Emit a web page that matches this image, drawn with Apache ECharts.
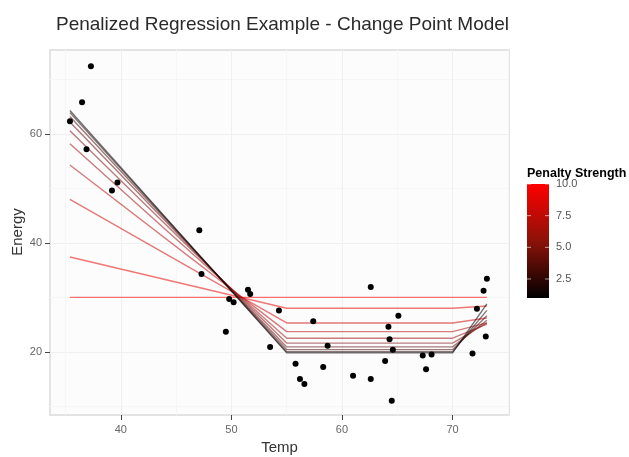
<!DOCTYPE html>
<html lang="en">
<head>
    <meta charset="UTF-8">
    <title>Penalized Regression Example - Change Point Model</title>
    <script src="https://cdn.jsdelivr.net/npm/echarts@6/dist/echarts.min.js"></script>
    <style>
        body{margin:0;background:#fff}
        #main{width:629px;height:457px}
    </style>
</head>
<body>
<div id="main"></div>
<script>
    // observed points
    var temp = [35.4, 36.5, 37.3, 36.9, 39.2, 39.7, 47.1, 47.3, 49.5, 49.8, 50.2, 51.5, 51.7,
        53.5, 54.3, 55.8, 56.2, 56.6, 57.4, 58.3, 58.7, 61.0, 62.6, 62.6, 63.9, 64.2, 64.3,
        64.6, 64.5, 65.1, 67.3, 67.6, 68.1, 71.8, 72.2, 72.8, 73.1, 73.0];
    var energy = [62.3, 65.8, 72.4, 57.2, 49.6, 51.1, 42.3, 34.3, 23.7, 29.7, 29.1, 31.4, 30.6,
        20.9, 27.6, 17.8, 15.0, 14.1, 25.6, 17.2, 21.1, 15.6, 31.9, 15.0, 18.3, 24.6, 22.3,
        20.4, 11.0, 26.6, 19.3, 16.8, 19.5, 19.7, 27.9, 31.2, 33.4, 22.8];

    // fitted change point lines, one per penalty
    var penalty = [1, 2, 3, 4, 5, 6, 7, 8, 9, 10];
    var knots = [35.4, 55, 70, 73.1];
    var fitLeft = [64.3, 63.9, 63.2, 62.2, 60.6, 58.2, 54.3, 48.0, 37.4, 30.0];
    var fitFlat = [19.8, 20.0, 20.4, 20.9, 21.6, 22.5, 23.7, 25.3, 28.0, 30.0];
    var fitRight = [28.8, 27.6, 26.6, 25.8, 25.3, 25.1, 25.3, 26.2, 28.4, 30.0];

    var legendTicks = [2.5, 5.0, 7.5, 10.0];
    var penMin = 1, penMax = 10;

    function penColor(v, a) {
        var t = (v - penMin) / (penMax - penMin);
        var r = Math.round(255 * Math.pow(t, 0.8));
        var g = Math.round(20 * Math.sin(Math.PI * t));
        return 'rgba(' + r + ',' + g + ',' + g + ',' + a + ')';
    }

    var series = [];
    for (var i = penalty.length - 1; i >= 0; i--) {
        series.push({
            type: 'line',
            symbol: 'none',
            silent: true,
            lineStyle: {color: penColor(penalty[i], 0.55), width: 1.4},
            data: [[knots[0], fitLeft[i]], [knots[1], fitFlat[i]], [knots[2], fitFlat[i]], [knots[3], fitRight[i]]],
            z: 2
        });
    }
    var pts = [];
    for (var j = 0; j < temp.length; j++) pts.push([temp[j], energy[j]]);
    series.push({
        type: 'scatter',
        symbolSize: 6,
        itemStyle: {color: '#000', opacity: 1},
        data: pts,
        z: 5
    });

    // colour bar legend + y axis title
    var barX = 527, barTop = 184, barBottom = 298, barW = 22;
    var graphic = [
        {type: 'text', x: 18, y: 232, rotation: Math.PI / 2,
            style: {text: 'Energy', font: '15px "Liberation Sans"', fill: '#333', align: 'center', verticalAlign: 'middle'}},
        {type: 'text', left: 527, top: 167,
            style: {text: 'Penalty Strength', font: 'bold 12.5px "Liberation Sans"', fill: '#000'}},
        {type: 'rect', shape: {x: barX, y: barTop, width: barW, height: barBottom - barTop},
            style: {fill: {type: 'linear', x: 0, y: 0, x2: 0, y2: 1, colorStops: [
                {offset: 0, color: '#ff0000'}, {offset: 0.5, color: '#8c1208'}, {offset: 1, color: '#000000'}]}}}
    ];
    legendTicks.forEach(function (v) {
        var y = barBottom - (v - penMin) / (penMax - penMin) * (barBottom - barTop);
        graphic.push({type: 'line', shape: {x1: barX, y1: y, x2: barX + 4, y2: y}, style: {stroke: 'rgba(255,255,255,0.6)', lineWidth: 1}});
        graphic.push({type: 'line', shape: {x1: barX + barW - 4, y1: y, x2: barX + barW, y2: y}, style: {stroke: 'rgba(255,255,255,0.6)', lineWidth: 1}});
        graphic.push({type: 'text', x: barX + barW + 7, y: y,
            style: {text: v.toFixed(1), font: '11px "Liberation Sans"', fill: '#555', verticalAlign: 'middle'}});
    });

    var myChart = echarts.init(document.getElementById('main'));
    myChart.setOption({
        animation: false,
        textStyle: {fontFamily: 'Liberation Sans'},
        title: {
            text: 'Penalized Regression Example - Change Point Model',
            left: 51, top: 10,
            textStyle: {fontSize: 19, fontWeight: 'normal', color: '#2a2a2a'}
        },
        grid: {
            left: 50, right: 120, top: 50, bottom: 42,
            outerBoundsMode: 'none',
            show: true, backgroundColor: '#fcfcfc', borderColor: '#dadada', borderWidth: 1.5
        },
        xAxis: [{
            type: 'value', min: 33.6, max: 75.1,
            name: 'Temp', nameLocation: 'middle', nameGap: 25,
            nameTextStyle: {fontSize: 15, color: '#333'},
            axisLine: {show: false},
            axisTick: {show: true, length: 5, customValues: [40, 50, 60, 70], lineStyle: {color: '#444'}},
            axisLabel: {customValues: [40, 50, 60, 70], color: '#666', fontSize: 11, margin: 9},
            splitLine: {show: true, lineStyle: {color: '#efefef', width: 1}}
        }, {
            type: 'value', min: 33.6, max: 75.1, position: 'top',
            axisLine: {show: false}, axisLabel: {show: false},
            axisTick: {show: false, customValues: [35, 45, 55, 65, 75]},
            splitLine: {show: true, lineStyle: {color: '#f6f6f6', width: 1}}
        }],
        yAxis: [{
            type: 'value', min: 8.4, max: 75.4,
            axisLine: {show: false},
            axisTick: {show: true, length: 5, customValues: [20, 40, 60], lineStyle: {color: '#444'}},
            axisLabel: {customValues: [20, 40, 60], color: '#666', fontSize: 11, margin: 8},
            splitLine: {show: true, lineStyle: {color: '#efefef', width: 1}}
        }, {
            type: 'value', min: 8.4, max: 75.4, position: 'right',
            axisLine: {show: false}, axisLabel: {show: false},
            axisTick: {show: false, customValues: [10, 30, 50, 70]},
            splitLine: {show: true, lineStyle: {color: '#f6f6f6', width: 1}}
        }],
        graphic: graphic,
        series: series
    });
</script>
</body>
</html>
